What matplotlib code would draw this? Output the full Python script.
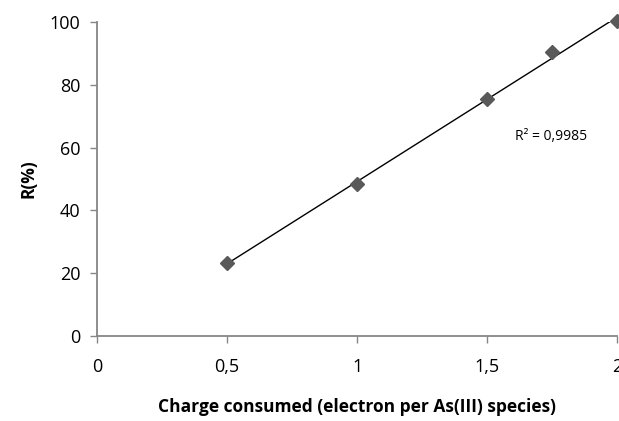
import numpy as np
import matplotlib.pyplot as plt

# 数据
charge = [0.5, 1.0, 1.5, 1.75, 2.0]
removal = [23.3, 48.3, 75.3, 90.3, 100.3]
x_ticks = [0, 0.5, 1, 1.5, 2]
x_labels = ['0', '0,5', '1', '1,5', '2']
y_ticks = [0, 20, 40, 60, 80, 100]

plt.rcParams['font.family'] = ['Open Sans', 'DejaVu Sans']

fig = plt.figure(figsize=(6.19, 4.21), dpi=100)
ax = fig.add_axes([0.157, 0.202, 0.84, 0.746])

# 线性拟合
k, b = np.polyfit(charge, removal, 1)
fit_x = np.array([min(charge), max(charge)])
ax.plot(fit_x, k * fit_x + b, color='black', linewidth=1.0, zorder=2)
ax.plot(charge, removal, linestyle='none', marker='D', markersize=7,
        color='#595959', zorder=3, clip_on=False)

ax.text(1.745, 63.5, 'R² = 0,9985', fontsize=10, ha='center', va='center')

ax.set_xlim(0, 2)
ax.set_ylim(0, 100)
ax.set_xticks(x_ticks)
ax.set_xticklabels(x_labels)
ax.set_yticks(y_ticks)
for s in ['top', 'right']:
    ax.spines[s].set_visible(False)
for s in ['left', 'bottom']:
    ax.spines[s].set_color('#868686')
    ax.spines[s].set_linewidth(1.3)
ax.tick_params(direction='out', length=5, width=1, color='#868686',
               labelsize=13, pad=7)
ax.tick_params(axis='x', pad=11)
ax.set_xlabel('Charge consumed (electron per As(III) species)',
              fontsize=12.5, fontweight='bold', labelpad=16)
ax.set_ylabel('R(%)', fontsize=12.5, fontweight='bold', labelpad=9)

fig.savefig('out.png', dpi=100)
